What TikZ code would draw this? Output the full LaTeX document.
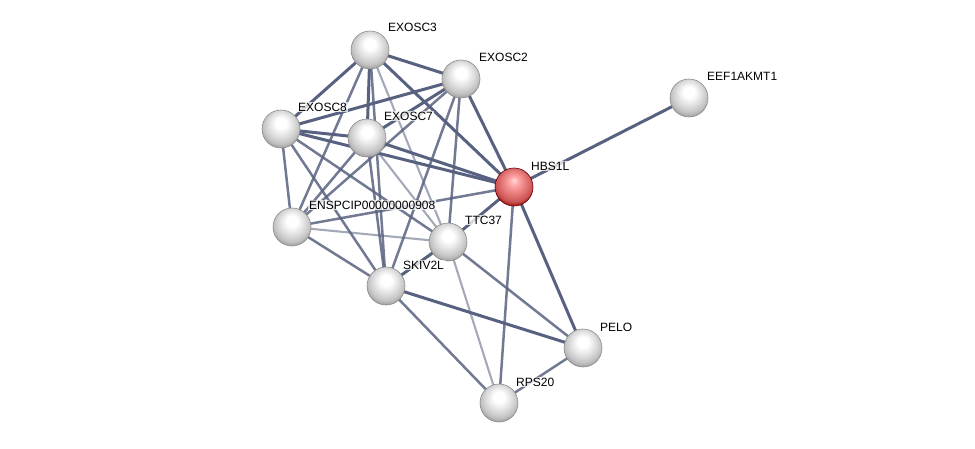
\documentclass[tikz,border=0pt]{standalone}
\usepackage{fontspec}
\setmainfont{Liberation Sans}
\pgfdeclareradialshading{greysphere}{\pgfpoint{0bp}{9bp}}{%
  color(0bp)=(white); color(7bp)=(white); color(16bp)=(black!12); color(24bp)=(black!24); color(30bp)=(black!42); color(50bp)=(black!42)}
\pgfdeclareradialshading{redsphere}{\pgfpoint{0bp}{9bp}}{%
  color(0bp)=(red!15!white); color(6bp)=(red!35!white); color(16bp)=(red!48!white!90!black); color(24bp)=(red!58!white!80!black); color(30bp)=(red!60!black); color(50bp)=(red!60!black)}
\begin{document}
\begin{tikzpicture}[x=1pt,y=-1pt,
  edgethick/.style={draw=edgecol, line width=3pt},
  edgemed/.style={draw=edgecol, line width=2.5pt, draw opacity=0.85},
  edgelight/.style={draw=edgecol, line width=2.1pt, draw opacity=0.55},
  prot/.style={circle, minimum size=38pt, inner sep=0pt, shading=greysphere, draw=black!45, line width=0.6pt},
  protred/.style={prot, shading=redsphere, draw=red!40!black},
  lbl/.style={anchor=west, font=\fontsize{12}{14}\selectfont, fill=white, fill opacity=0.75, text opacity=1, inner sep=1pt}
]
\definecolor{edgecol}{RGB}{88,98,128}
\useasboundingbox (0,0) rectangle (975,449);
\coordinate (C3) at (370,50);
\coordinate (C2) at (461,79);
\coordinate (C8) at (281,129);
\coordinate (C7) at (367,138);
\coordinate (H) at (514,187);
\coordinate (E) at (689,98);
\coordinate (EN) at (292,227);
\coordinate (T) at (448,242);
\coordinate (S) at (386,286);
\coordinate (P) at (583,348);
\coordinate (R) at (499,403);
% edges
\draw[edgethick] (C3) -- (C2);
\draw[edgethick] (C3) -- (C8);
\draw[edgethick] (C3) -- (C7);
\draw[edgethick] (C3) -- (H);
\draw[edgemed] (C3) -- (EN);
\draw[edgemed] (C3) -- (S);
\draw[edgelight] (C3) -- (T);
\draw[edgethick] (C2) -- (C8);
\draw[edgethick] (C2) -- (C7);
\draw[edgethick] (C2) -- (H);
\draw[edgemed] (C2) -- (EN);
\draw[edgemed] (C2) -- (S);
\draw[edgemed] (C2) -- (T);
\draw[edgethick] (C8) -- (C7);
\draw[edgethick] (C8) -- (H);
\draw[edgemed] (C8) -- (EN);
\draw[edgemed] (C8) -- (T);
\draw[edgemed] (C8) -- (S);
\draw[edgethick] (C7) -- (H);
\draw[edgemed] (C7) -- (EN);
\draw[edgemed] (C7) -- (S);
\draw[edgelight] (C7) -- (T);
\draw[edgemed] (EN) -- (H);
\draw[edgelight] (EN) -- (T);
\draw[edgemed] (EN) -- (S);
\draw[edgethick] (T) -- (H);
\draw[edgethick] (T) -- (S);
\draw[edgemed] (T) -- (P);
\draw[edgelight] (T) -- (R);
\draw[edgethick] (S) -- (P);
\draw[edgemed] (S) -- (R);
\draw[edgethick] (H) -- (P);
\draw[edgemed] (H) -- (R);
\draw[edgethick] (H) -- (E);
\draw[edgemed] (P) -- (R);
% nodes
\node[prot] (nC3) at (C3) {};
\node[prot] (nC2) at (C2) {};
\node[prot] (nC8) at (C8) {};
\node[prot] (nC7) at (C7) {};
\node[protred] (nH) at (H) {};
\node[prot] (nE) at (E) {};
\node[prot] (nEN) at (EN) {};
\node[prot] (nT) at (T) {};
\node[prot] (nS) at (S) {};
\node[prot] (nP) at (P) {};
\node[prot] (nR) at (R) {};
% labels
\node[lbl] (lC3) at (387,27) {EXOSC3};
\node[lbl] (lC2) at (478,57) {EXOSC2};
\node[lbl] (lC8) at (297,107) {EXOSC8};
\node[lbl] (lC7) at (383,116) {EXOSC7};
\node[lbl] (lH) at (530,166) {HBS1L};
\node[lbl] (lE) at (706,76) {EEF1AKMT1};
\node[lbl] (lEN) at (308,205) {ENSPCIP00000000908};
\node[lbl] (lT) at (464,220) {TTC37};
\node[lbl] (lS) at (402,265) {SKIV2L};
\node[lbl] (lP) at (599,327) {PELO};
\node[lbl] (lR) at (515,382) {RPS20};
\end{tikzpicture}
\end{document}
